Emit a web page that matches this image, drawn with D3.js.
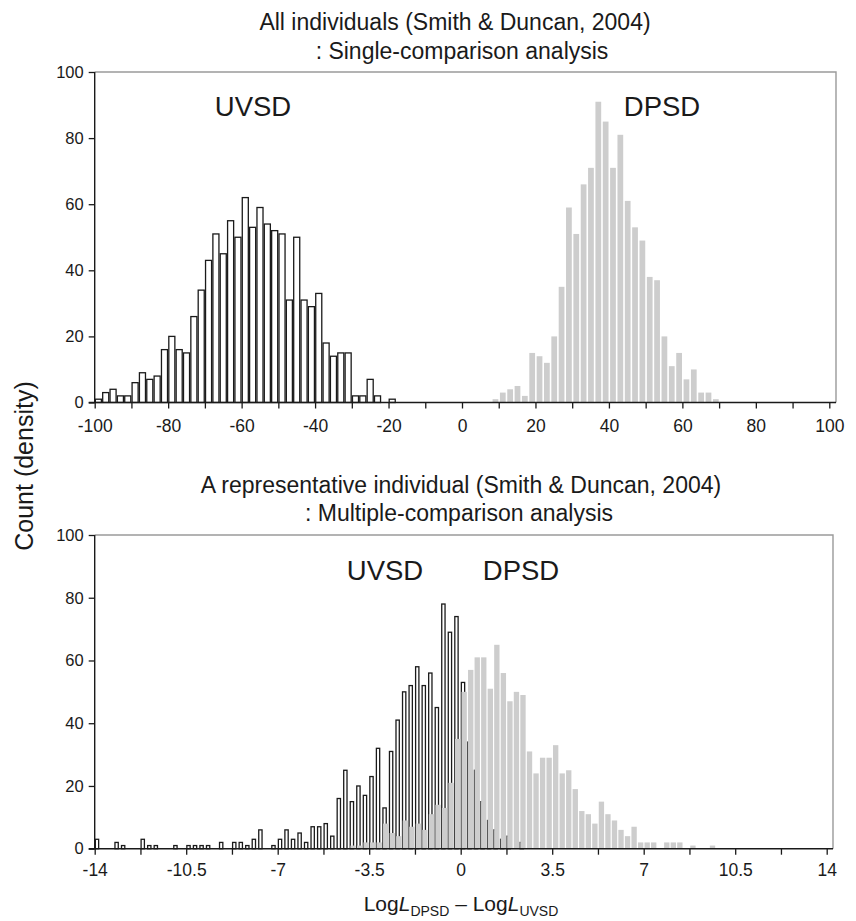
<!DOCTYPE html>
<html>
<head>
<meta charset="utf-8">
<script src="https://cdn.jsdelivr.net/npm/d3@7"></script>
<style>
  body { margin: 0; background: #fff; }
  svg { display: block; font-family: "Liberation Sans", Arial, Helvetica, sans-serif; }
  .tick text { fill: #1a1a1a; }
</style>
</head>
<body>
<div id="root"></div>
<script>
// top panel: all individuals, bins of 2 units
const topBinWidth = 2;
const topUVSDStart = -100;
const topUVSD = [1, 3, 4, 2, 2, 6, 9, 7, 8, 16, 20, 16, 15, 26, 34, 43, 51, 45, 55, 50,
  62, 53, 59, 54, 52, 51, 31, 50, 31, 29, 33, 18, 14, 15, 15, 2, 2, 7, 2, 0, 1];
const topDPSDStart = 8;
const topDPSD = [1, 3, 4, 5, 2, 15, 14, 12, 20, 35, 59, 51, 66, 71, 91, 85, 71, 81, 61, 53,
  49, 38, 37, 20, 11, 15, 7, 10, 3, 3, 1];
const topXTicks = d3.range(-100, 101, 10);
const topXLabels = d3.range(-100, 101, 20);

// bottom panel: representative individual, bins of 0.25 units
const bottomBinWidth = 0.25;
const bottomUVSDStart = -14;
const bottomUVSD = [3, 0, 0, 2, 1, 0, 0, 3, 1, 1, 0, 0, 1, 0, 1, 1, 1, 1, 0, 2,
  0, 2, 2, 1, 3, 6, 0, 1, 3, 6, 3, 5, 2, 7, 7, 8, 4, 16, 25, 15,
  20, 17, 23, 32, 13, 31, 41, 50, 52, 58, 52, 56, 45, 78, 69, 74, 53, 34, 25, 15,
  9, 6, 3, 4, 0, 2];
const bottomDPSDStart = -4.25;
const bottomDPSD = [1, 1, 2, 2, 2, 8, 5, 4, 9, 7, 8, 6, 11, 14, 13, 21, 35, 50, 57, 61,
  61, 51, 65, 56, 47, 50, 49, 31, 24, 29, 29, 33, 24, 25, 19, 12, 11, 8, 15, 11,
  9, 6, 4, 7, 2, 2, 2, 0, 2, 2, 2, 0, 1, 0, 0, 1];
const bottomXTicks = d3.range(-14, 14.001, 1.75);
const bottomXLabels = d3.range(-14, 14.001, 3.5);

const yTicks = d3.range(0, 101, 20);

const width = 856, height = 921;

const svg = d3.select("#root").append("svg")
  .attr("width", width)
  .attr("height", height);

svg.append("rect").attr("width", width).attr("height", height).attr("fill", "#fff");

function toBins(values, start, w) {
  return values.map((v, i) => ({ x0: start + i * w, value: v }));
}

function panel(o) {
  const x = d3.scaleLinear().domain(o.xDomain).range(o.xRange);
  const y = d3.scaleLinear().domain([0, 100]).range(o.yRange);
  const g = svg.append("g");
  const binPx = x(o.binWidth) - x(0);

  // frame (gray top / right)
  g.append("path")
    .attr("d", `M${o.xRange[0]},${y(100)}H${o.frameRight}V${y(0)}`)
    .attr("fill", "none")
    .attr("stroke", "#9a9a9a")
    .attr("stroke-width", 1.4);

  // UVSD: white bars with black outline
  g.selectAll(".uvsd")
    .data(toBins(o.uvsd, o.uvsdStart, o.binWidth).filter(d => d.value > 0))
    .enter()
    .append("rect")
    .attr("class", "uvsd")
    .attr("x", d => x(d.x0) + o.uOff)
    .attr("width", o.uW)
    .attr("y", d => y(d.value))
    .attr("height", d => y(0) - y(d.value))
    .attr("fill", "#fff")
    .attr("stroke", "#1a1a1a")
    .attr("stroke-width", 1.3);

  // DPSD: gray bars drawn on top
  g.selectAll(".dpsd")
    .data(toBins(o.dpsd, o.dpsdStart, o.binWidth).filter(d => d.value > 0))
    .enter()
    .append("rect")
    .attr("class", "dpsd")
    .attr("x", d => x(d.x0) + o.dOff)
    .attr("width", binPx - o.dGap)
    .attr("y", d => y(d.value))
    .attr("height", d => y(0) - y(d.value))
    .attr("fill", "#cdcdcd");

  // x axis
  const xAxis = d3.axisBottom(x)
    .tickValues(o.xTicks)
    .tickSize(6)
    .tickPadding(o.xPad)
    .tickFormat(d => o.xLabels.some(l => Math.abs(l - d) < 1e-9) ? String(+d.toFixed(2)) : "");
  const gx = g.append("g")
    .attr("transform", `translate(0,${y(0)})`)
    .call(xAxis);
  gx.select(".domain").remove();
  gx.selectAll(".tick line").attr("stroke", "#1a1a1a").attr("stroke-width", 1.3);
  gx.selectAll(".tick text").attr("font-size", 17.5);
  g.append("line")
    .attr("x1", o.xRange[0] - 6).attr("x2", o.frameRight)
    .attr("y1", y(0)).attr("y2", y(0))
    .attr("stroke", "#1a1a1a").attr("stroke-width", 1.4);

  // y axis
  const yAxis = d3.axisLeft(y)
    .tickValues(yTicks)
    .tickSize(6)
    .tickPadding(5)
    .tickFormat(d => String(d));
  const gy = g.append("g")
    .attr("transform", `translate(${o.xRange[0]},0)`)
    .call(yAxis);
  gy.select(".domain").remove();
  gy.selectAll(".tick line").attr("stroke", "#1a1a1a").attr("stroke-width", 1.3);
  gy.selectAll(".tick text").attr("font-size", 16.5);
  g.append("line")
    .attr("x1", o.xRange[0]).attr("x2", o.xRange[0])
    .attr("y1", y(100)).attr("y2", y(0))
    .attr("stroke", "#1a1a1a").attr("stroke-width", 1.4);

  // titles
  o.titles.forEach(t => {
    g.append("text")
      .attr("x", t.x).attr("y", t.y)
      .attr("text-anchor", "middle")
      .attr("font-size", 23)
      .attr("fill", "#1a1a1a")
      .text(t.text);
  });

  // series labels
  o.labels.forEach(t => {
    g.append("text")
      .attr("x", t.x).attr("y", t.y)
      .attr("text-anchor", "middle")
      .attr("font-size", 27.5)
      .attr("fill", "#1a1a1a")
      .text(t.text);
  });
}

panel({
  xDomain: [-100, 100], xRange: [94.7, 829.3], yRange: [402.5, 72],
  frameRight: 836, binWidth: topBinWidth,
  uvsd: topUVSD, uvsdStart: topUVSDStart,
  dpsd: topDPSD, dpsdStart: topDPSDStart,
  uOff: 0.65, uW: 6.05, dOff: 1.2, dGap: 1.6,
  xTicks: topXTicks, xLabels: topXLabels, xPad: 11,
  titles: [
    { text: "All individuals (Smith & Duncan, 2004)", x: 455, y: 30 },
    { text: ": Single-comparison analysis", x: 462, y: 59 }
  ],
  labels: [
    { text: "UVSD", x: 253, y: 116 },
    { text: "DPSD", x: 662, y: 116 }
  ]
});

panel({
  xDomain: [-14, 14], xRange: [94.7, 826.7], yRange: [848.7, 535],
  frameRight: 833, binWidth: bottomBinWidth,
  uvsd: bottomUVSD, uvsdStart: bottomUVSDStart,
  dpsd: bottomDPSD, dpsdStart: bottomDPSDStart,
  uOff: 0.65, uW: 3.3, dOff: 0.8, dGap: 1.2,
  xTicks: bottomXTicks, xLabels: bottomXLabels, xPad: 9,
  titles: [
    { text: "A representative individual (Smith & Duncan, 2004)", x: 461, y: 493 },
    { text: ": Multiple-comparison analysis", x: 459, y: 521 }
  ],
  labels: [
    { text: "UVSD", x: 385, y: 580 },
    { text: "DPSD", x: 521, y: 580 }
  ]
});

// shared axis labels
svg.append("text")
  .attr("transform", "translate(33,466) rotate(-90)")
  .attr("text-anchor", "middle")
  .attr("font-size", 25)
  .attr("fill", "#1a1a1a")
  .text("Count (density)");

const xl = svg.append("text")
  .attr("x", 461).attr("y", 911)
  .attr("text-anchor", "middle")
  .attr("font-size", 21)
  .attr("fill", "#1a1a1a");
xl.append("tspan").text("Log");
xl.append("tspan").attr("font-style", "italic").text("L");
xl.append("tspan").attr("font-size", 14).attr("dy", 5).text("DPSD");
xl.append("tspan").attr("dy", -5).text(" \u2013 Log");
xl.append("tspan").attr("font-style", "italic").text("L");
xl.append("tspan").attr("font-size", 14).attr("dy", 5).text("UVSD");
</script>
</body>
</html>
